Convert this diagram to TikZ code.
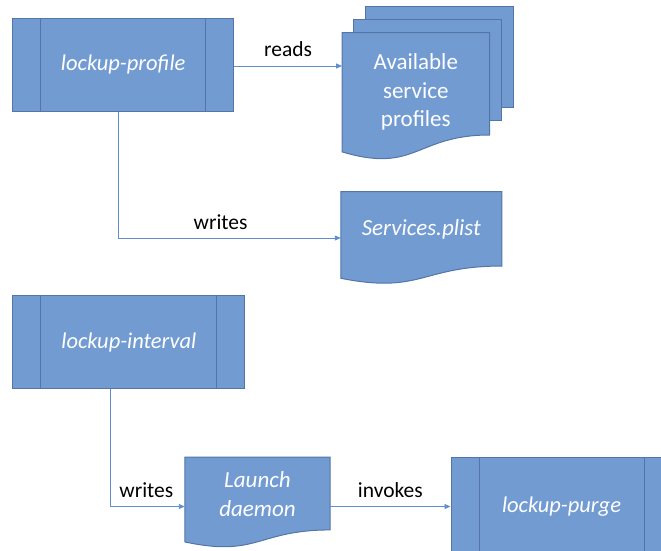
\documentclass[tikz,border=0pt]{standalone}
\usepackage{fontspec}
\setmainfont{Carlito}
\usetikzlibrary{calc,arrows.meta}

\definecolor{shapefill}{RGB}{113,155,209}
\definecolor{shapeline}{RGB}{84,117,166}
\definecolor{linkline}{RGB}{96,143,208}

\tikzset{
  procbox/.style={draw=shapeline, fill=shapefill, line width=1pt, inner sep=0pt,
    minimum width=#1, minimum height=93pt,
    font=\fontsize{22.5}{26}\selectfont\itshape, text=white,
    path picture={
      \draw[shapeline, line width=1pt]
        ([xshift=28pt]path picture bounding box.north west) --
        ([xshift=28pt]path picture bounding box.south west);
      \draw[shapeline, line width=1pt]
        ([xshift=-28pt]path picture bounding box.north east) --
        ([xshift=-28pt]path picture bounding box.south east);
    }},
  docarea/.style n args={2}{inner sep=0pt, minimum width=#1, minimum height=#2},
  docshape/.style={draw=shapeline, fill=shapefill, line width=1pt},
  doctext/.style={font=\fontsize{23}{28.5}\selectfont, text=white, align=center},
  docitext/.style={font=\fontsize{23}{28.5}\selectfont\itshape, text=white, align=center},
  link/.style={draw=linkline, line width=0.9pt, -{Triangle[length=6pt,width=5pt]}},
  linklabel/.style={font=\fontsize{21.5}{24}\selectfont, text=black},
}

% wavy-bottom document outline around a named area node
\newcommand{\docoutline}[1]{%
  \path[docshape] (#1.north west) -- (#1.north east)
    -- ($(#1.north east)!0.802!(#1.south east)$)
    .. controls ($(#1.north)!0.802!(#1.south)$) and ($(#1.north)!1.107!(#1.south)$)
    .. ($(#1.north west)!0.934!(#1.south west)$) -- cycle;}

\begin{document}
\begin{tikzpicture}[x=1pt,y=-1pt]
\useasboundingbox (0,0) rectangle (661,550);
\clip (0,0) rectangle (661,550);

% process boxes
\node[procbox=221pt] (prof) at (123.2,64.5) {lockup-profile};
\node[procbox=232pt] (intv) at (128.9,342) {lockup-interval};
\node[procbox=221pt, minimum height=98pt] (purge) at (561.5,506.5) {lockup-purge};

% stacked documents: two sheets behind the front one
\node[docarea={147pt}{100pt}] (sheetb) at (439.3,57) {};
\node[docarea={147pt}{100pt}] (sheetm) at (427.3,70) {};
\path[docshape] (sheetb.north west) rectangle (sheetb.south east);
\path[docshape] (sheetm.north west) rectangle (sheetm.south east);
\node[docarea={147pt}{127.4pt}] (profiles) at (415.8,96.4) {};
\docoutline{profiles}
\node[doctext] (proftxt) at (415.8,92) {Available\\service\\profiles};

% single documents
\node[docarea={160.5pt}{92.4pt}] (plist) at (421.3,238) {};
\docoutline{plist}
\node[docitext] (plisttxt) at (421.3,229) {Services.plist};

\node[docarea={145pt}{90.4pt}] (daemon) at (257.5,502.5) {};
\docoutline{daemon}
\node[docitext] (daemontxt) at (257.5,494) {Launch\\daemon};

% connectors
\draw[link] (prof.east |- 0,66) -- (profiles.west |- 0,66)
  node[linklabel, midway, above=6pt] (lreads) {reads};
\draw[link] ([xshift=-5pt]prof.south) |- (plist.west)
  node[linklabel, pos=0.73, above=5pt] (lwrites1) {writes};
\draw[link] ([xshift=-18pt]intv.south) |- (daemon.west |- purge.west)
  node[linklabel, pos=0.74, above=5pt] (lwrites2) {writes};
\draw[link] (daemon.east |- purge.west) -- (purge.west)
  node[linklabel, midway, above=5pt] (linvokes) {invokes};
\end{tikzpicture}
\end{document}
